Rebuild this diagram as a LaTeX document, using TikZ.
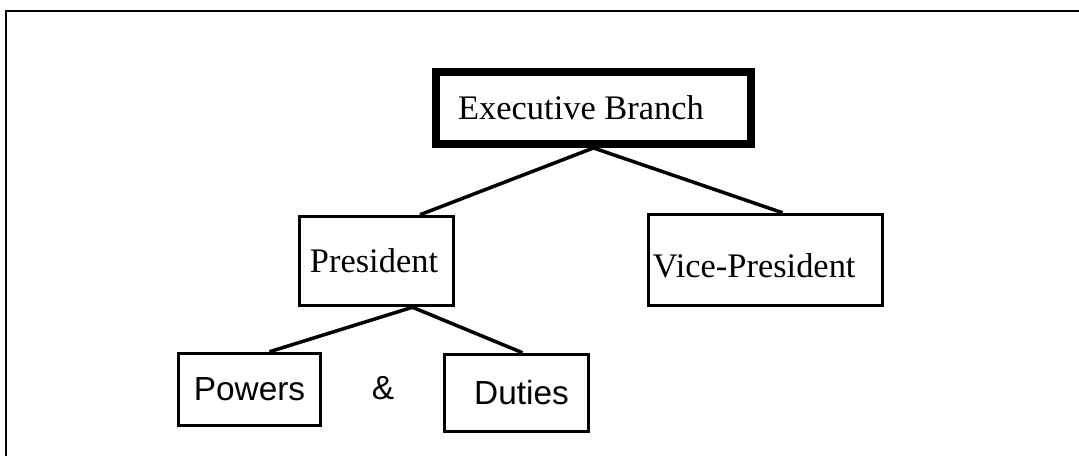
\documentclass[tikz,border=0pt]{standalone}
\usepackage{fontspec}
\setmainfont{Liberation Serif}
\newfontfamily\arialfont{Liberation Sans}
\usetikzlibrary{positioning}

\begin{document}
\begin{tikzpicture}[x=0.02cm,y=-0.02cm]
\tikzset{govbox/.style={rectangle,draw,line width=2pt,inner sep=0pt,font=\fontsize{19.6}{23}\selectfont}}
\tikzset{dutybox/.style={rectangle,draw,line width=2pt,inner sep=0pt,font=\arialfont\fontsize{19}{22}\selectfont}}
\tikzset{branch/.style={line width=2pt}}
\useasboundingbox (0,0) rectangle (1079,456);
\draw[line width=1.2pt](6,456) -- (6,11) -- (1079,11);
\node[govbox,line width=4.5pt,minimum width=6.3cm,minimum height=1.44cm](exec) at (593.5,108){\hspace*{-0.5cm}Executive Branch};
\node[govbox,minimum width=3.08cm,minimum height=1.78cm](pres) at (376.5,261){\hspace*{-0.1cm}President};
\node[govbox,minimum width=4.68cm,minimum height=1.82cm](vice) at (765.5,260){\raisebox{-0.12cm}[\height][0pt]{Vice-President}\hspace*{0.45cm}};
\node[dutybox,minimum width=2.84cm,minimum height=1.44cm](pow) at (249.5,389.5){Powers};
\node[font=\arialfont\fontsize{19}{22}\selectfont](amp) at (383,388){\&};
\node[dutybox,minimum width=2.88cm,minimum height=1.54cm](dut) at (516.5,393){\hspace*{0.2cm}Duties};
\draw[branch](exec.south) -- ([xshift=0.87cm]pres.north);
\draw[branch](exec.south) -- ([xshift=0.34cm]vice.north);
\draw[branch]([xshift=0.72cm]pres.south) -- ([xshift=0.4cm]pow.north);
\draw[branch]([xshift=0.72cm]pres.south) -- ([xshift=0.12cm]dut.north);
\end{tikzpicture}
\end{document}
